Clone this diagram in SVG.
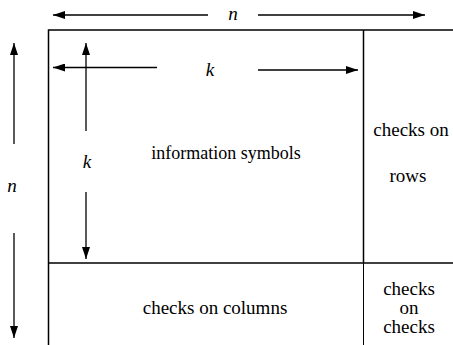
<svg xmlns="http://www.w3.org/2000/svg" width="453" height="345" viewBox="0 0 453 345">
<style>
.ln{stroke:#000;stroke-width:1.5;fill:none}
.ar{stroke:#000;stroke-width:1.3;fill:none}
.t{font-family:'Liberation Serif',serif;font-size:19px;fill:#000;text-anchor:middle}
.i{font-style:italic}
</style>
<defs>
<marker id="ah" markerWidth="12" markerHeight="8" refX="12" refY="4" orient="auto" markerUnits="userSpaceOnUse">
<path d="M0,0 L12,4 L0,8 Z" fill="#000"/>
</marker>
</defs>
<rect width="453" height="345" fill="#fff"/>
<g id="nodes">
<g id="information-symbols">
<path class="ln" d="M48.5,350 V30 H460"/>
<text class="t" x="226" y="158.5" style="font-size:18px">information symbols</text>
</g>
<g id="checks-on-rows">
<path class="ln" d="M363.5,30 V263"/>
<text class="t" x="411" y="136">checks on</text>
<text class="t" x="408" y="182">rows</text>
</g>
<g id="checks-on-columns">
<path class="ln" d="M48.5,263 H460"/>
<text class="t" x="215" y="314">checks on columns</text>
</g>
<g id="checks-on-checks">
<path d="M363.5,263 V350" stroke="#000" stroke-width="1" fill="none"/>
<text class="t" x="409" y="295">checks</text>
<text class="t" x="409" y="314">on</text>
<text class="t" x="409" y="333">checks</text>
</g>
</g>
<g id="connectors">
<path class="ar" d="M208,15 H53" marker-end="url(#ah)"/>
<path class="ar" d="M258,15 H425" marker-end="url(#ah)"/>
<text class="t i" x="233" y="20">n</text>
<path class="ar" d="M157,67.5 H53" marker-end="url(#ah)"/>
<path class="ar" d="M258,70 H358" marker-end="url(#ah)"/>
<text class="t i" x="210" y="76">k</text>
<path class="ar" d="M86,131 V43" marker-end="url(#ah)"/>
<path class="ar" d="M86,192 V259" marker-end="url(#ah)"/>
<text class="t i" x="87" y="168">k</text>
<path class="ar" d="M14,144 V43" marker-end="url(#ah)"/>
<path class="ar" d="M14,233 V338" marker-end="url(#ah)"/>
<text class="t i" x="12" y="192">n</text>
</g>
</svg>
